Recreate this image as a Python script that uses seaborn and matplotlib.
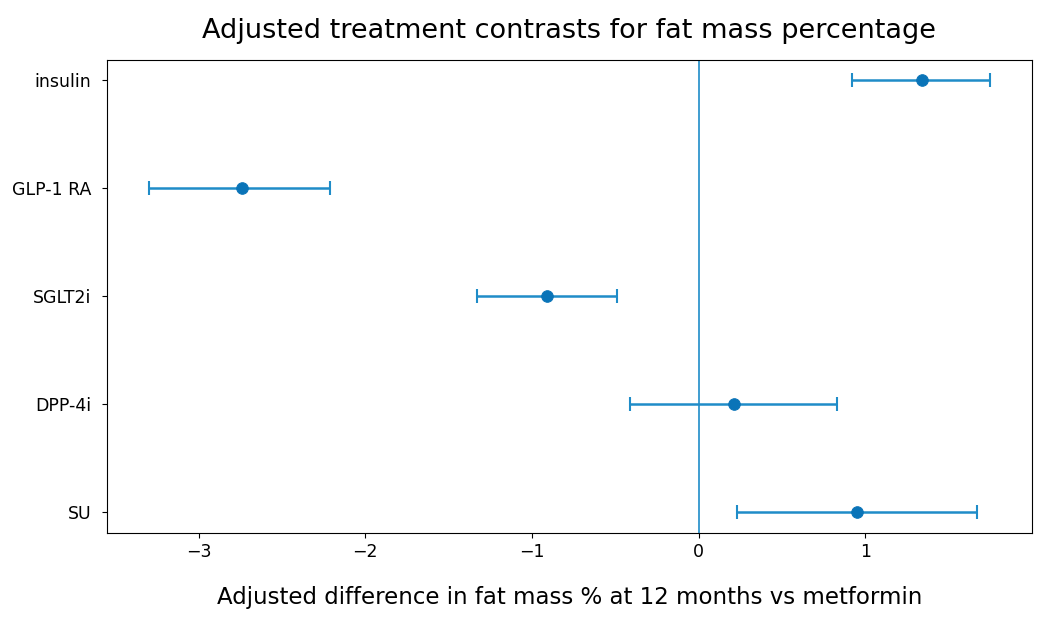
import matplotlib
matplotlib.use("Agg")
import matplotlib.pyplot as plt
import seaborn as sns
import pandas as pd

treatments = ["insulin", "GLP-1 RA", "SGLT2i", "DPP-4i", "SU"]
estimate = [1.34, -2.74, -0.91, 0.21, 0.95]
ci_low = [0.92, -3.30, -1.33, -0.41, 0.23]
ci_high = [1.75, -2.21, -0.49, 0.83, 1.67]

df = pd.DataFrame({"treatment": treatments, "estimate": estimate,
                   "lo": ci_low, "hi": ci_high})

sns.set_style("ticks")
plt.rcParams['font.family'] = ['DejaVu Sans']
plt.rcParams['text.color'] = 'black'
plt.rcParams['xtick.color'] = 'black'
plt.rcParams['ytick.color'] = 'black'
fig = plt.figure(figsize=(10.44, 6.24), dpi=100)
ax = fig.add_axes([107/1044, 1-533/624, (1032-107)/1044, (533-60)/624])

line_c = "#1f8cc8"
pt_c = "#0a74b8"
ypos = list(range(len(treatments)))
ax.errorbar(df["estimate"], ypos,
            xerr=[df["estimate"] - df["lo"], df["hi"] - df["estimate"]],
            fmt="none", ecolor=line_c, elinewidth=1.8, capsize=5, capthick=1.5)
sns.scatterplot(x=df["estimate"], y=ypos, ax=ax, color=pt_c, s=70,
                edgecolor=pt_c, zorder=3, legend=False)
ax.axvline(0, color=line_c, linewidth=1.2)
for s in ax.spines.values():
    s.set_color("black")

ax.set_yticks(ypos)
ax.set_yticklabels(treatments, fontsize=12.5)
ax.set_ylim(4.19, -0.185)
ax.set_xlim(-3.55, 2.0)
ax.set_xticks([-3, -2, -1, 0, 1])
ax.set_xticklabels(["\u22123", "\u22122", "\u22121", "0", "1"])
ax.tick_params(axis="x", labelsize=12.5)
ax.tick_params(axis="y", pad=8)
ax.set_xlabel("Adjusted difference in fat mass % at 12 months vs metformin",
              fontsize=16.5, labelpad=18, color="black")
ax.set_ylabel("")
ax.set_title("Adjusted treatment contrasts for fat mass percentage",
             fontsize=19.5, pad=16, color="black")
fig.savefig("out.png", dpi=100)
